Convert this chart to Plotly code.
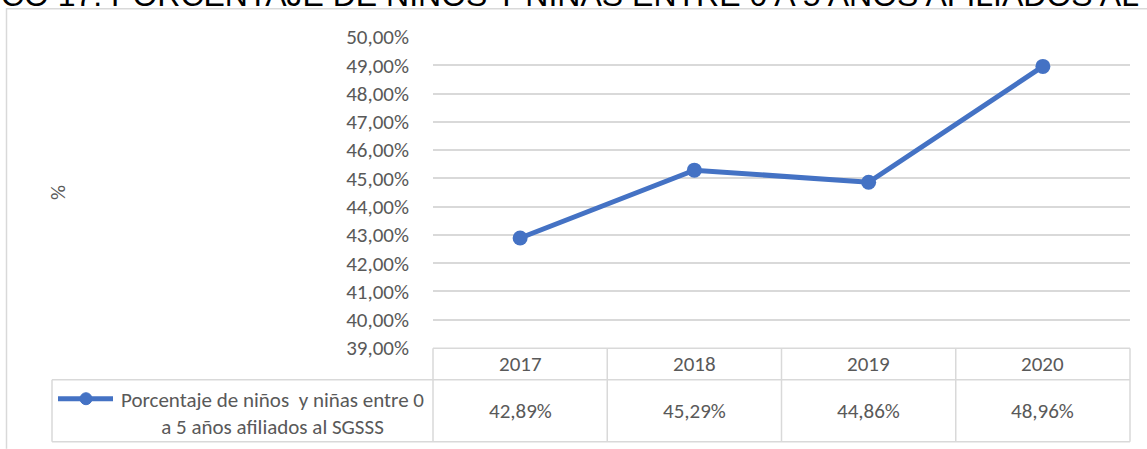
import plotly.graph_objects as go

# ---- data ----
years = ["2017", "2018", "2019", "2020"]
values = [42.89, 45.29, 44.86, 48.96]
series_name = "Porcentaje de niños  y niñas entre 0<br>a 5 años afiliados al SGSSS"
y_title = "%"
title_text = "GRÁFICO 17. PORCENTAJE DE NIÑOS Y NIÑAS ENTRE 0 A 5 AÑOS AFILIADOS AL SGSSS"
y_ticks = list(range(39, 51))


def pct(v):
    return f"{v:.2f}".replace(".", ",") + "%"


# ---- layout geometry (pixels) ----
W, H = 1147, 449
L, R, T, B = 433, 1130, 36.8, 348.2
BLUE = "#4472C4"
GRID = "#D9D9D9"
TXT = "#595959"
FONT = "Calibri, Carlito, Lato, sans-serif"
FS = 21


def px(x):
    return (x - L) / (R - L)


def py(y):
    return (B - y) / (B - T)


fig = go.Figure()
fig.add_trace(go.Scatter(
    x=years, y=values, mode="lines+markers",
    line=dict(color=BLUE, width=5),
    marker=dict(size=15, color=BLUE),
    cliponaxis=False, showlegend=False, name=series_name.replace("<br>", " "),
))

shapes = []


def hline(x0, x1, y, color=GRID, w=1.5):
    shapes.append(dict(type="line", xref="paper", yref="paper",
                       x0=px(x0), x1=px(x1), y0=py(y), y1=py(y),
                       line=dict(color=color, width=w)))


def vline(x, y0, y1, color=GRID, w=1.5):
    shapes.append(dict(type="line", xref="paper", yref="paper",
                       x0=px(x), x1=px(x), y0=py(y0), y1=py(y1),
                       line=dict(color=color, width=w)))


# outer chart border
hline(6, 1147, 8.5)
vline(6.5, 8, 449)

# data table grid
col_w = (R - L) / len(years)
hline(L, R, 348.5)
hline(52, R, 380)
hline(52, R, 442)
vline(52, 380, 442)
for i in range(len(years) + 1):
    vline(L + i * col_w, 348.5, 442)

# legend key in table
shapes.append(dict(type="line", xref="paper", yref="paper",
                   x0=px(58), x1=px(113), y0=py(399), y1=py(399),
                   line=dict(color=BLUE, width=5)))
shapes.append(dict(type="circle", xref="paper", yref="paper",
                   x0=px(80), x1=px(92), y0=py(393), y1=py(405),
                   fillcolor=BLUE, line=dict(color=BLUE, width=1)))

annotations = []
for i, (yr, v) in enumerate(zip(years, values)):
    annotations.append(dict(x=i, xref="x", y=py(364), yref="paper",
                            xanchor="center", yanchor="middle",
                            text=yr, showarrow=False,
                            font=dict(family=FONT, size=FS, color=TXT)))
    annotations.append(dict(x=i, xref="x", y=py(411), yref="paper",
                            xanchor="center", yanchor="middle",
                            text=pct(v), showarrow=False,
                            font=dict(family=FONT, size=FS, color=TXT)))

annotations.append(dict(x=px(272.5), y=py(414), xref="paper", yref="paper",
                        xanchor="center", yanchor="middle",
                        text=series_name, showarrow=False, align="center",
                        font=dict(family=FONT, size=FS, color=TXT)))

annotations.append(dict(x=px(58), y=py(193), xref="paper", yref="paper",
                        xanchor="center", yanchor="middle",
                        text=y_title, showarrow=False, textangle=-90,
                        font=dict(family=FONT, size=FS, color=TXT)))

annotations.append(dict(x=px(580), y=py(15), xref="paper", yref="paper",
                        xanchor="center", yanchor="bottom",
                        text=title_text, showarrow=False,
                        font=dict(family="Liberation Sans, Arial, sans-serif", size=32, color="#000000")))

fig.update_layout(
    width=W, height=H,
    margin=dict(l=L, r=W - R, t=T, b=H - B, autoexpand=False),
    paper_bgcolor="white", plot_bgcolor="white",
    xaxis=dict(type="category", range=[-0.5, len(years) - 0.5],
               showticklabels=False, showgrid=False, zeroline=False, showline=False),
    yaxis=dict(range=[39, 50], tickvals=y_ticks, ticktext=[pct(t) for t in y_ticks],
               showgrid=True, gridcolor=GRID, gridwidth=1.5, zeroline=False,
               showline=False, ticks="", ticklabelstandoff=23,
               tickfont=dict(family=FONT, size=FS, color=TXT)),
    shapes=shapes, annotations=annotations,
    showlegend=False,
)

fig.write_html("out.html", config={"displayModeBar": False},
               post_script="document.body.style.margin='0';")
